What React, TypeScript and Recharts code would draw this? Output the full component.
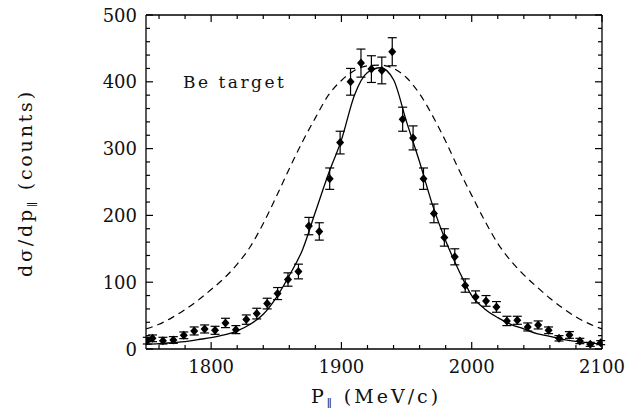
import React from "react";
import { ComposedChart, Line, Scatter, ErrorBar, XAxis, YAxis } from "recharts";

// measured points (MeV/c, counts, error)
const pMeas = [
  1751, 1755, 1763, 1771, 1779, 1787, 1795, 1803, 1811, 1819, 1827, 1835, 1843, 1851, 1859,
  1867, 1875, 1883, 1891, 1899, 1907, 1915, 1923, 1931, 1939, 1947, 1955, 1963, 1971, 1979,
  1987, 1995, 2003, 2011, 2019, 2027, 2035, 2043, 2051, 2059, 2067, 2075, 2083, 2091, 2099,
];
const counts = [
  12.5, 16, 12.5, 13.5, 20.5, 27, 30, 28, 39, 29, 44, 53, 68, 83, 104,
  116, 184, 176, 255, 309, 400, 428, 419, 417, 445, 344, 316, 255, 203, 167,
  138, 95, 78, 72, 63, 42, 43, 33, 36, 28, 16, 21, 12, 7, 9.5,
];
const errors = [
  5, 5, 5, 5, 5, 6, 6, 6, 7, 6, 7, 8, 8, 9, 10,
  11, 13, 13, 16, 17, 20, 21, 20, 20, 21, 18, 18, 16, 14, 13,
  12, 10, 9, 8, 8, 7, 6, 6, 6, 5, 4, 5, 4, 3, 3,
];

// curves
const pCurve = [
  1750, 1760, 1770, 1780, 1790, 1800, 1810, 1820, 1830, 1840, 1850, 1860, 1870, 1880, 1890, 1900, 1910, 1920,
  1930, 1940, 1950, 1960, 1970, 1980, 1990, 2000, 2010, 2020, 2030, 2040, 2050, 2060, 2070, 2080, 2090, 2100,
];
const fitSolid = [
  7, 8, 9.5, 11, 14, 17, 21, 27, 37, 52, 77, 110, 148, 205, 262, 313, 380, 414,
  421, 403, 340, 280, 215, 162, 118, 80, 60, 47, 37, 30, 23, 19, 14.5, 11.5, 9.3, 8,
];
const fitDashed = [
  30, 37, 47, 59, 73, 89, 106, 127, 153, 188, 228, 270, 310, 346, 380, 402, 417, 424,
  425, 420, 406, 382, 349, 311, 269, 230, 192, 158, 132, 111, 93, 76, 61, 48, 38, 30,
];

const xTicks = [
  1760, 1780, 1800, 1820, 1840, 1860, 1880, 1900, 1920, 1940, 1960, 1980, 2000, 2020, 2040, 2060, 2080, 2100,
];
const yTicks = [
  0, 20, 40, 60, 80, 100, 120, 140, 160, 180, 200, 220, 240, 260, 280, 300, 320, 340, 360, 380, 400, 420, 440,
  460, 480, 500,
];

const points = pMeas.map((p, i) => ({ p, v: counts[i], err: errors[i] }));
const curves = pCurve.map((p, i) => ({ p, s: fitSolid[i], d: fitDashed[i] }));

const FONT = "'DejaVu Serif', serif";

function Tick(props: any) {
  const { x, y, payload, side } = props;
  const v = payload.value;
  const major = v % 100 === 0;
  const len = major ? 7 : 4;
  let line;
  if (side === "bottom") line = <line x1={x} y1={y} x2={x} y2={y - len} stroke="#000" strokeWidth={1.2} />;
  else if (side === "top") line = <line x1={x} y1={y} x2={x} y2={y + len} stroke="#000" strokeWidth={1.2} />;
  else if (side === "left") line = <line x1={x} y1={y} x2={x + len} y2={y} stroke="#000" strokeWidth={1.2} />;
  else line = <line x1={x} y1={y} x2={x - len} y2={y} stroke="#000" strokeWidth={1.2} />;
  return (
    <g>
      {line}
      {major && side === "bottom" && (
        <text x={x} y={y + 24} textAnchor="middle" fontFamily={FONT} fontSize={18} fill="#111">
          {v}
        </text>
      )}
      {major && side === "left" && (
        <text x={x - 9} y={y + 6.5} textAnchor="end" fontFamily={FONT} fontSize={18} fill="#111">
          {v}
        </text>
      )}
    </g>
  );
}

const Diamond = (props: any) => {
  const { cx, cy } = props;
  if (cx == null || cy == null) return null;
  return <polygon points={`${cx},${cy - 4.5} ${cx + 4},${cy} ${cx},${cy + 4.5} ${cx - 4},${cy}`} fill="#000" />;
};

export default function App() {
  return (
    <div style={{ position: "absolute", left: 0, top: 0, width: 632, height: 409, background: "#fff" }}>
      <ComposedChart width={632} height={409} margin={{ top: 0, right: 0, bottom: 0, left: 0 }}>
        <XAxis
          xAxisId="b"
          dataKey="p"
          type="number"
          domain={[1750, 2100]}
          allowDataOverflow
          ticks={xTicks}
          interval={0}
          height={60}
          tickSize={0}
          tickMargin={0}
          tickLine={false}
          axisLine={{ stroke: "#000", strokeWidth: 1.3 }}
          tick={(p: any) => <Tick {...p} side="bottom" />}
        />
        <XAxis
          xAxisId="t"
          orientation="top"
          dataKey="p"
          type="number"
          domain={[1750, 2100]}
          allowDataOverflow
          ticks={xTicks}
          interval={0}
          height={15}
          tickSize={0}
          tickMargin={0}
          tickLine={false}
          axisLine={{ stroke: "#000", strokeWidth: 1.3 }}
          tick={(p: any) => <Tick {...p} side="top" />}
        />
        <YAxis
          yAxisId="l"
          type="number"
          domain={[0, 500]}
          allowDataOverflow
          ticks={yTicks}
          interval={0}
          width={146}
          tickSize={0}
          tickMargin={0}
          tickLine={false}
          axisLine={{ stroke: "#000", strokeWidth: 1.3 }}
          tick={(p: any) => <Tick {...p} side="left" />}
        />
        <YAxis
          yAxisId="r"
          orientation="right"
          type="number"
          domain={[0, 500]}
          allowDataOverflow
          ticks={yTicks}
          interval={0}
          width={30}
          tickSize={0}
          tickMargin={0}
          tickLine={false}
          axisLine={{ stroke: "#000", strokeWidth: 1.3 }}
          tick={(p: any) => <Tick {...p} side="right" />}
        />
        <Line
          xAxisId="b"
          yAxisId="l"
          data={curves}
          dataKey="d"
          type="monotone"
          stroke="#000"
          strokeWidth={1.2}
          strokeDasharray="7 5"
          dot={false}
          isAnimationActive={false}
        />
        <Line
          xAxisId="b"
          yAxisId="l"
          data={curves}
          dataKey="s"
          type="monotone"
          stroke="#000"
          strokeWidth={1.3}
          dot={false}
          isAnimationActive={false}
        />
        <Scatter
          xAxisId="b"
          yAxisId="l"
          data={points}
          dataKey="v"
          shape={Diamond}
          isAnimationActive={false}
        >
          <ErrorBar dataKey="err" direction="y" width={4.5} stroke="#000" strokeWidth={1.2} />
        </Scatter>
        <text x={183} y={88} fontFamily={FONT} fontSize={17} letterSpacing={2.5} fill="#111">
          Be target
        </text>
        <text x={376} y={403} textAnchor="middle" fontFamily={FONT} fontSize={19} letterSpacing={3} fill="#111">
          P<tspan fontSize={11} dy={4}>∥</tspan>
          <tspan dy={-4}> (MeV/c)</tspan>
        </text>
        <text
          x={32}
          y={183}
          transform="rotate(-90, 32, 183)"
          textAnchor="middle"
          fontFamily={FONT}
          fontSize={19}
          letterSpacing={2.8}
          fill="#111"
        >
          dσ/dp<tspan fontSize={11} dy={4}>∥</tspan>
          <tspan dy={-4}> (counts)</tspan>
        </text>
      </ComposedChart>
    </div>
  );
}
